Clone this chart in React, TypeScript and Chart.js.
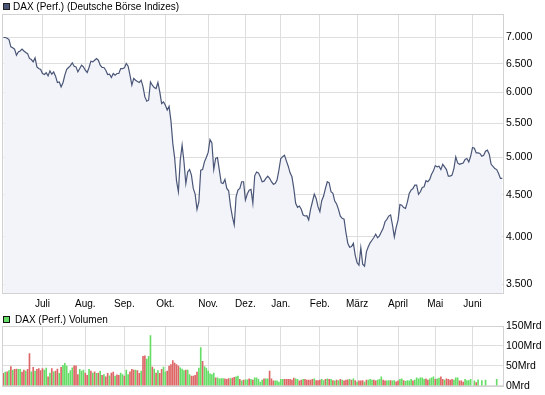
import React, { useEffect, useRef } from "react";
import { Chart, registerables } from "chart.js";

Chart.register(...registerables);

// ---------- data ----------
const monthLabels = ["Juli", "Aug.", "Sep.", "Okt.", "Nov.", "Dez.", "Jan.", "Feb.", "März", "April", "Mai", "Juni"];
// trading-day index of the first session of each month (index 0 = 2 June 2008)
const monthStartIdx = [21, 44, 65, 87, 110, 130, 149, 170, 190, 212, 232, 252];

const priceTicks = [3500, 4000, 4500, 5000, 5500, 6000, 6500, 7000];
const volumeTicks = [0, 50, 100, 150];

// DAX daily closes
const daxClose = [
  7000, 7000, 6985, 6960, 6818, 6800, 6774, 6660, 6723, 6740,
  6774, 6740, 6710, 6690, 6600, 6580, 6537, 6610, 6446, 6416,
  6400, 6327, 6310, 6340, 6285, 6374, 6315, 6355, 6280, 6170,
  6180, 6095, 6165, 6298, 6400, 6435, 6470, 6520, 6458, 6446,
  6356, 6416, 6476, 6446, 6386, 6345, 6435, 6550, 6537, 6568,
  6599, 6568, 6476, 6435, 6435, 6386, 6310, 6315, 6257, 6327,
  6298, 6327, 6327, 6416, 6416, 6428, 6507, 6458, 6298, 6123,
  6240, 6210, 6188, 6170, 6210, 6095, 5925, 5854, 5870, 6180,
  6123, 6083, 6066, 6170, 6010, 5816, 5843, 5789, 5710, 5770,
  5540, 5200, 4990, 4680, 4540, 4961, 5175, 4940, 4647, 4800,
  4833, 4757, 4583, 4511, 4322, 4415, 4824, 4833, 4938, 4998,
  5070, 5257, 5208, 4833, 4985, 4998, 4824, 4656, 4647, 4700,
  4583, 4553, 4362, 4234, 4137, 4477, 4561, 4583, 4670, 4670,
  4436, 4511, 4561, 4570, 4395, 4748, 4800, 4788, 4735, 4670,
  4678, 4713, 4744, 4713, 4670, 4638, 4647, 4691, 4824, 4985,
  5008, 5030, 4952, 4878, 4788, 4735, 4583, 4395, 4346, 4362,
  4322, 4254, 4242, 4246, 4195, 4322, 4415, 4511, 4456, 4354,
  4294, 4427, 4486, 4583, 4670, 4656, 4540, 4520, 4423, 4387,
  4322, 4240, 4214, 4205, 4050, 3930, 3885, 3893, 3930, 3799,
  3720, 3695, 3880, 3705, 3684, 3836, 3890, 3934, 3963, 3993,
  4030, 3990, 4012, 4055, 4097, 4174, 4202, 4241, 4254, 4136,
  4000, 4109, 4194, 4380, 4373, 4344, 4333, 4410, 4518, 4561,
  4582, 4625, 4625, 4507, 4540, 4596, 4604, 4683, 4670, 4700,
  4770, 4815, 4886, 4868, 4877, 4832, 4904, 4868, 4832, 4744,
  4744, 4757, 4846, 5007, 4922, 4904, 4913, 4922, 4970, 4984,
  4936, 5016, 5140, 5130, 5064, 5064, 5055, 5016, 5030, 5088,
  5102, 5045, 4904, 4877, 4846, 4832, 4779, 4713, 4713,
];

// daily turnover in Mrd (billion)
const volumeMrd = [
  31, 34, 35, 38, 48, 39, 41, 42, 41, 41,
  34, 39, 37, 41, 81, 35, 46, 37, 41, 43,
  38, 43, 39, 44, 22, 32, 43, 35, 37, 42,
  31, 46, 51, 56, 49, 31, 38, 45, 50, 50,
  28, 41, 37, 39, 32, 26, 41, 37, 32, 35,
  31, 32, 37, 26, 28, 22, 31, 25, 32, 34,
  24, 27, 26, 32, 28, 24, 39, 28, 35, 41,
  39, 39, 38, 31, 37, 74, 75, 67, 74, 126,
  47, 42, 32, 38, 31, 41, 47, 35, 37, 49,
  53, 63, 57, 53, 49, 45, 42, 38, 39, 39,
  28, 24, 24, 26, 34, 44, 96, 61, 48, 44,
  37, 30, 28, 32, 20, 20, 17, 18, 18, 17,
  16, 18, 18, 19, 21, 22, 24, 16, 12, 14,
  15, 15, 17, 16, 14, 20, 20, 16, 9, 14,
  17, 17, 17, 37, 17, 12, 12, 12, 9, 16,
  16, 16, 16, 16, 16, 14, 19, 17, 16, 12,
  14, 16, 16, 14, 14, 14, 16, 17, 13, 13,
  14, 16, 13, 16, 17, 16, 16, 13, 12, 14,
  13, 16, 14, 12, 14, 15, 16, 14, 17, 13,
  9, 12, 12, 13, 9, 14, 14, 16, 14, 14,
  12, 14, 16, 22, 14, 12, 12, 13, 13, 12,
  13, 10, 12, 16, 17, 13, 11, 13, 12, 16,
  12, 14, 20, 17, 20, 20, 16, 17, 14, 17,
  20, 22, 16, 17, 19, 22, 16, 14, 17, 16,
  14, 16, 14, 20, 20, 12, 12, 9, 16, 13,
  13, 16, null, 12, 8, 15, null, 13, null, 14,
  null, null, null, null, null, 16, null, null, null,
];

// u = up day (green), d = down day (red)
const volumeDir = [
  "d","u","d","u","d","u","d","d","u","u",
  "d","d","u","d","d","u","d","u","d","d",
  "d","d","u","u","d","u","d","u","d","d",
  "u","d","u","u","u","u","u","u","d","d",
  "d","u","u","u","d","d","u","d","u","d",
  "u","d","u","d","u","d","d","u","d","d",
  "u","d","d","u","u","d","u","u","d","d",
  "d","u","d","d","u","d","d","u","u","u",
  "d","u","d","u","d","d","u","u","d","d",
  "d","d","d","d","d","u","u","u","d","u",
  "u","d","d","d","d","u","u","d","u","u",
  "u","u","u","u","d","u","u","u","u","d",
  "d","d","u","d","d","u","u","d","u","d",
  "u","u","d","u","d","u","u","u","u","u",
  "d","u","u","d","d","d","u","u","u","u",
  "u","d","d","d","d","d","d","u","u","d",
  "d","u","d","d","d","d","d","u","d","d",
  "d","u","u","d","u","d","u","d","u","d",
  "u","d","u","d","d","d","u","d","u","d",
  "u","d","d","d","u","d","u","u","u","d",
  "d","u","u","u","d","d","u","u","d","u",
  "u","d","d","u","u","d","u","u","u","u",
  "d","u","u","u","u","u","u","d","d","u",
  "u","u","d","u","u","d","d","u","d","d",
  "d","d","u","u","u","d","d","d","u","u",
  "u","u","u","u","d","u","u","u","u","u",
  "u","u","u","u","u","u","u","u","u",
];

// ---------- styles ----------
const LINE = "#4a5677";
const FILL = "#f3f4fa";
const GRID = "#dedede";
const BOX = "#d2d2d2";
const UP = "#66dd66";
const DOWN = "#dd6666";
const FONT_FAMILY = '"Liberation Sans", Arial, sans-serif';
const X_MIN = -0.757;
const X_MAX = 268.38;

const fmtThousands = (v: number) => String(Math.round(v)).replace(/\B(?=(\d{3})+(?!\d))/g, ".");

const boxPlugin = {
  id: "plotBox",
  afterDraw(chart: any) {
    const { ctx, chartArea: a } = chart;
    const l = Math.round(a.left), t = Math.round(a.top), r = Math.round(a.right), b = Math.round(a.bottom);
    ctx.save();
    ctx.strokeStyle = BOX;
    ctx.lineWidth = 1;
    ctx.strokeRect(l + 0.5, t + 0.5, r - l, b - t);
    ctx.restore();
  },
};

const xTickCallback = (v: any) => {
  const k = monthStartIdx.indexOf(Number(v));
  return k >= 0 ? monthLabels[k] : "";
};

export default function App() {
  const priceRef = useRef<HTMLCanvasElement | null>(null);
  const volRef = useRef<HTMLCanvasElement | null>(null);

  useEffect(() => {
    const priceChart = new Chart(priceRef.current as HTMLCanvasElement, {
      type: "line",
      data: {
        datasets: [
          {
            data: daxClose.map((v, i) => ({ x: i, y: v })),
            borderColor: LINE,
            borderWidth: 1.2,
            backgroundColor: FILL,
            fill: "start",
            pointRadius: 0,
            tension: 0,
          },
        ],
      },
      options: {
        responsive: false,
        animation: false,
        devicePixelRatio: 1,
        layout: { padding: { left: 2, top: 14, right: 0, bottom: 0 } },
        plugins: { legend: { display: false }, tooltip: { enabled: false } },
        scales: {
          x: {
            type: "linear",
            min: X_MIN,
            max: X_MAX,
            grid: { color: GRID, drawTicks: false },
            border: { display: false },
            ticks: {
              autoSkip: false,
              maxRotation: 0,
              padding: 5,
              color: "#000",
              font: { family: FONT_FAMILY, size: 10 },
              callback: xTickCallback,
            },
            afterBuildTicks: (s: any) => {
              s.ticks = monthStartIdx.map((v) => ({ value: v }));
            },
            afterFit: (s: any) => {
              s.height = 19;
            },
          },
          y: {
            type: "logarithmic",
            position: "right",
            min: 3417.5,
            max: 7477,
            grid: { color: GRID, drawTicks: false },
            border: { display: false },
            ticks: {
              padding: 3,
              color: "#000",
              font: { family: FONT_FAMILY, size: 10.5 },
              callback: (v: any) => fmtThousands(Number(v)),
            },
            afterBuildTicks: (s: any) => {
              s.ticks = priceTicks.map((v) => ({ value: v }));
            },
            afterFit: (s: any) => {
              s.width = 42;
            },
          },
        },
      },
      plugins: [boxPlugin],
    } as any);

    const volChart = new Chart(volRef.current as HTMLCanvasElement, {
      type: "bar",
      data: {
        datasets: [
          {
            data: volumeMrd.map((v, i) => ({ x: i, y: v })),
            backgroundColor: volumeDir.map((d) => (d === "u" ? UP : DOWN)),
            barThickness: 1,
            borderWidth: 0,
          },
        ],
      },
      options: {
        responsive: false,
        animation: false,
        devicePixelRatio: 1,
        layout: { padding: { left: 2, top: 14, right: 0, bottom: 9 } },
        plugins: { legend: { display: false }, tooltip: { enabled: false } },
        scales: {
          x: {
            type: "linear",
            min: X_MIN,
            max: X_MAX,
            offset: false,
            grid: { color: GRID, drawTicks: false, offset: false },
            border: { display: false },
            ticks: { display: false },
            afterBuildTicks: (s: any) => {
              s.ticks = monthStartIdx.map((v) => ({ value: v }));
            },
            afterFit: (s: any) => {
              s.height = 0;
            },
          },
          y: {
            type: "linear",
            position: "right",
            min: 0,
            max: 150,
            grid: { color: GRID, drawTicks: false },
            border: { display: false },
            ticks: {
              padding: 3,
              color: "#000",
              font: { family: FONT_FAMILY, size: 10.5 },
              callback: (v: any) => `${v}Mrd`,
            },
            afterBuildTicks: (s: any) => {
              s.ticks = volumeTicks.map((v) => ({ value: v }));
            },
            afterFit: (s: any) => {
              s.width = 42;
            },
          },
        },
      },
      plugins: [boxPlugin],
    } as any);

    return () => {
      priceChart.destroy();
      volChart.destroy();
    };
  }, []);

  const legendText: React.CSSProperties = {
    position: "absolute",
    fontFamily: FONT_FAMILY,
    fontSize: 10,
    lineHeight: "13px",
    color: "#000",
    whiteSpace: "nowrap",
  };

  return (
    <div style={{ position: "absolute", left: 0, top: 0, width: 545, height: 395, background: "#fff", overflow: "hidden" }}>
      <canvas ref={priceRef} width={545} height={312} style={{ position: "absolute", left: 0, top: 0 }} />
      <canvas ref={volRef} width={545} height={83} style={{ position: "absolute", left: 0, top: 312 }} />
      <div style={{ position: "absolute", left: 3, top: 3, width: 7, height: 7, boxSizing: "border-box", background: LINE, border: "1px solid #222" }} />
      <div style={{ ...legendText, left: 13, top: 0 }}>DAX (Perf.) (Deutsche Börse Indizes)</div>
      <div style={{ position: "absolute", left: 3, top: 316, width: 7, height: 7, boxSizing: "border-box", background: UP, border: "1px solid #111" }} />
      <div style={{ ...legendText, left: 15, top: 313 }}>DAX (Perf.) Volumen</div>
    </div>
  );
}
